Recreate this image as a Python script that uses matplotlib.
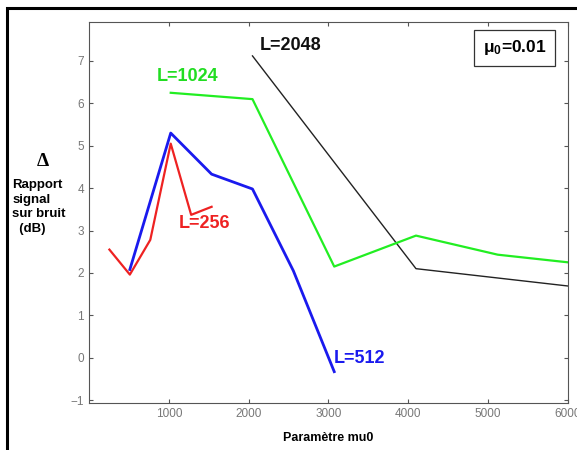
import numpy as np
import matplotlib
matplotlib.use('Agg')
import matplotlib.pyplot as plt
from matplotlib.patches import Rectangle

plt.rcParams['font.family'] = ['Liberation Sans', 'DejaVu Sans']

# valeurs (dB)
x256 = [256, 512, 768, 1024, 1280, 1536]
y256 = [2.55, 1.96, 2.78, 5.05, 3.37, 3.56]

x512 = [512, 1024, 1536, 2048, 2560, 3072]
y512 = [2.08, 5.30, 4.33, 3.98, 2.05, -0.33]

x1024 = [1024, 2048, 3072, 4096, 5120, 6144]
y1024 = [6.25, 6.10, 2.15, 2.88, 2.43, 2.22]

x2048 = [2048, 4096, 5120, 6144]
y2048 = [7.12, 2.10, 1.88, 1.66]

xticks = [1000, 2000, 3000, 4000, 5000, 6000]
yticks = [-1, 0, 1, 2, 3, 4, 5, 6, 7]

fig = plt.figure(figsize=(5.77, 4.5), dpi=100)
ax = fig.add_axes([0.1542, 0.1044, 0.8302, 0.8467])

ax.plot(x2048, y2048, color='#222222', lw=1.0)
ax.plot(x1024, y1024, color='#22ee22', lw=1.6)
ax.plot(x512, y512, color='#1a1aee', lw=2.0)
ax.plot(x256, y256, color='#ee2222', lw=1.6)

ax.set_xlim(0, 6000)
ax.set_ylim(-1.07, 7.92)
ax.set_xticks(xticks)
ax.set_yticks(yticks)
ax.tick_params(direction='in', length=3, top=True, right=True,
               labelsize=8.5, labelcolor='#777777', color='#555555')
for s in ax.spines.values():
    s.set_color('#555555')
    s.set_linewidth(0.8)

ax.text(2140, 7.25, 'L=2048', color='#111111', fontsize=13, fontweight='bold')
ax.text(850, 6.52, 'L=1024', color='#22dd22', fontsize=13, fontweight='bold')
ax.text(1120, 3.05, 'L=256', color='#ee2222', fontsize=13, fontweight='bold')
ax.text(3070, -0.12, 'L=512', color='#1a1aee', fontsize=13, fontweight='bold')

ax.text(0.889, 0.932, r'$\mathregular{\mu_0}$=0.01', transform=ax.transAxes,
        ha='center', va='center', fontsize=12.5, fontweight='bold',
        bbox=dict(boxstyle='square,pad=0.5', fc='white', ec='#333333', lw=0.9))

ax.set_xlabel('Paramètre mu0', fontsize=9, fontweight='bold', labelpad=9)

fig.text(0.075, 0.64, 'Δ', fontsize=14, fontweight='bold', ha='center', va='center',
         family=['Liberation Serif', 'DejaVu Serif'])
fig.text(0.021, 0.54, 'Rapport\nsignal\nsur bruit\n  (dB)', fontsize=9.5,
         fontweight='bold', ha='left', va='center', linespacing=1.3)

fig.add_artist(Rectangle((0.012, -0.1), 1.1, 1.082, transform=fig.transFigure,
                         fill=False, ec='black', lw=2.2))

fig.savefig('out.png', dpi=100)
